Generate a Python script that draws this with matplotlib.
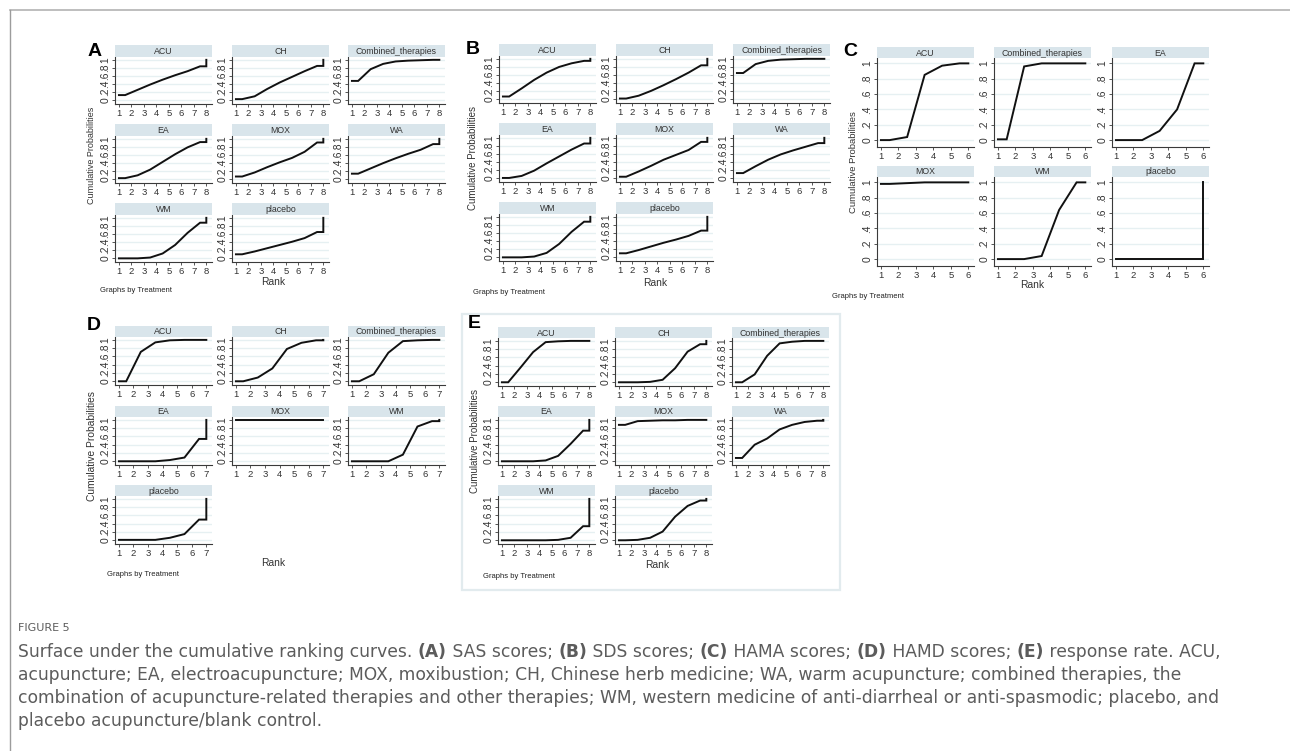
import matplotlib
matplotlib.use("Agg")
import matplotlib.pyplot as plt
from matplotlib.patches import Rectangle
from matplotlib.lines import Line2D

W, H = 1290, 751

# Cumulative probability of being ranked at or above rank r (r = 1 .. N-1);
# the final rank always closes at 1.
sas_names = ["ACU", "CH", "Combined_therapies", "EA", "MOX", "WA", "WM", "placebo"]
sas_cum = [
    [0.13, 0.26, 0.39, 0.51, 0.62, 0.72, 0.84],
    [0.03, 0.10, 0.28, 0.44, 0.58, 0.72, 0.85],
    [0.48, 0.77, 0.90, 0.96, 0.98, 0.99, 1.00],
    [0.03, 0.10, 0.24, 0.43, 0.62, 0.79, 0.92],
    [0.07, 0.17, 0.30, 0.42, 0.53, 0.68, 0.91],
    [0.14, 0.27, 0.40, 0.52, 0.63, 0.73, 0.87],
    [0.00, 0.00, 0.02, 0.12, 0.33, 0.63, 0.88],
    [0.10, 0.17, 0.25, 0.33, 0.41, 0.50, 0.65],
]

sds_names = ["ACU", "CH", "Combined_therapies", "EA", "MOX", "WA", "WM", "placebo"]
sds_cum = [
    [0.07, 0.27, 0.48, 0.66, 0.80, 0.89, 0.95],
    [0.02, 0.09, 0.21, 0.35, 0.50, 0.66, 0.84],
    [0.65, 0.87, 0.95, 0.98, 0.99, 1.00, 1.00],
    [0.01, 0.06, 0.19, 0.37, 0.54, 0.71, 0.86],
    [0.04, 0.17, 0.31, 0.46, 0.58, 0.70, 0.90],
    [0.13, 0.30, 0.46, 0.59, 0.69, 0.78, 0.87],
    [0.00, 0.00, 0.02, 0.11, 0.33, 0.63, 0.88],
    [0.10, 0.18, 0.27, 0.36, 0.44, 0.53, 0.66],
]

hama_names = ["ACU", "Combined_therapies", "EA", "MOX", "WM", "placebo"]
hama_cum = [
    [0.00, 0.04, 0.85, 0.97, 1.00],
    [0.01, 0.96, 1.00, 1.00, 1.00],
    [0.00, 0.00, 0.12, 0.40, 1.00],
    [0.98, 0.99, 1.00, 1.00, 1.00],
    [0.00, 0.00, 0.04, 0.64, 1.00],
    [0.00, 0.00, 0.00, 0.00, 0.00],
]

hamd_names = ["ACU", "CH", "Combined_therapies", "EA", "MOX", "WM", "placebo"]
hamd_cum = [
    [0.00, 0.71, 0.94, 0.99, 1.00, 1.00],
    [0.00, 0.09, 0.31, 0.78, 0.93, 0.99],
    [0.00, 0.17, 0.69, 0.97, 0.99, 1.00],
    [0.00, 0.00, 0.00, 0.03, 0.09, 0.54],
    [1.00, 1.00, 1.00, 1.00, 1.00, 1.00],
    [0.00, 0.00, 0.00, 0.16, 0.84, 0.97],
    [0.01, 0.01, 0.01, 0.06, 0.15, 0.50],
]

resp_names = ["ACU", "CH", "Combined_therapies", "EA", "MOX", "WA", "WM", "placebo"]
resp_cum = [
    [0.00, 0.36, 0.73, 0.97, 0.99, 1.00, 1.00],
    [0.00, 0.00, 0.01, 0.06, 0.34, 0.74, 0.92],
    [0.00, 0.19, 0.64, 0.94, 0.98, 1.00, 1.00],
    [0.00, 0.00, 0.00, 0.02, 0.13, 0.42, 0.74],
    [0.88, 0.97, 0.98, 0.99, 0.99, 1.00, 1.00],
    [0.08, 0.40, 0.55, 0.77, 0.88, 0.95, 0.98],
    [0.00, 0.00, 0.00, 0.00, 0.01, 0.06, 0.34],
    [0.00, 0.01, 0.06, 0.21, 0.57, 0.83, 0.96],
]

y_ticks = [0, 0.2, 0.4, 0.6, 0.8, 1]
y_ticklabels = ["0", ".2", ".4", ".6", ".8", "1"]

caption_head = "FIGURE 5"
caption_lines = [
    [("Surface under the cumulative ranking curves. ", False), ("(A)", True),
     (" SAS scores; ", False), ("(B)", True), (" SDS scores; ", False),
     ("(C)", True), (" HAMA scores; ", False), ("(D)", True),
     (" HAMD scores; ", False), ("(E)", True), (" response rate. ACU,", False)],
    [("acupuncture; EA, electroacupuncture; MOX, moxibustion; CH, Chinese herb "
      "medicine; WA, warm acupuncture; combined therapies, the", False)],
    [("combination of acupuncture-related therapies and other therapies; WM, "
      "western medicine of anti-diarrheal or anti-spasmodic; placebo, and", False)],
    [("placebo acupuncture/blank control.", False)],
]

STRIP = "#d9e5eb"
GRID = "#e6f0f2"
AXC = "#3a3a3a"
CAPC = "#5c5c5c"
STATA = ["Liberation Sans", "DejaVu Sans"]

panels = [
    dict(letter="A", names=sas_names, cum=sas_cum, cols=[115, 232, 348],
         rows=[45, 124, 203], strip_h=12, ax_h=47, letter_xy=(95, 51),
         ylab_xy=(91, 155), ylab_fs=6.5, rank_xy=(273, 282), note_xy=(100, 291)),
    dict(letter="B", names=sds_names, cum=sds_cum, cols=[499, 616, 733],
         rows=[44, 123, 202], strip_h=12, ax_h=47, letter_xy=(473, 50),
         ylab_xy=(473, 158), ylab_fs=7.0, rank_xy=(655, 283), note_xy=(473, 293)),
    dict(letter="C", names=hama_names, cum=hama_cum, cols=[877, 994, 1112],
         rows=[47, 166], strip_h=11, ax_h=89, letter_xy=(850, 51),
         ylab_xy=(853, 162), ylab_fs=6.8, rank_xy=(1032, 285), note_xy=(832, 297)),
    dict(letter="D", names=hamd_names, cum=hamd_cum, cols=[115, 232, 348],
         rows=[326, 406, 485], strip_h=11, ax_h=48, letter_xy=(94, 325),
         ylab_xy=(92, 446), ylab_fs=7.4, rank_xy=(273, 563), note_xy=(107, 575)),
    dict(letter="E", names=resp_names, cum=resp_cum, cols=[498, 615, 732],
         rows=[327, 406, 485], strip_h=11, ax_h=48, letter_xy=(474, 323),
         ylab_xy=(475, 441), ylab_fs=7.0, rank_xy=(657, 565), note_xy=(483, 576)),
]

PANEL_W = 97

fig = plt.figure(figsize=(W / 100, H / 100), dpi=100)
fig.patch.set_facecolor("white")


def fx(x):
    return x / W


def fy(y):
    return 1 - y / H


def box(left, top, right, bottom):
    return [left / W, 1 - bottom / H, (right - left) / W, (bottom - top) / H]


def step_curve(cum):
    # flat over the first half rank, joined at mid-ranks, closed with a jump to 1
    n = len(cum) + 1
    xs = [1.0] + [r + 0.5 for r in range(1, n)] + [float(n), float(n)]
    ys = [cum[0]] + list(cum) + [cum[-1], 1.0]
    return xs, ys


def draw_facet(left, top, strip_h, ax_h, name, cum):
    n = len(cum) + 1
    fig.patches.append(Rectangle((fx(left), fy(top + strip_h)), PANEL_W / W,
                                 strip_h / H, transform=fig.transFigure,
                                 facecolor=STRIP, edgecolor="none"))
    fig.text(fx(left + PANEL_W / 2), fy(top + strip_h / 2 + 0.5), name,
             ha="center", va="center", fontsize=6.3, color="#333333", family=STATA)
    ax = fig.add_axes(box(left, top + strip_h, left + PANEL_W, top + strip_h + ax_h))
    span = n - 1
    ax.set_xlim(1 - 0.045 * span, n + 0.065 * span)
    ax.set_ylim(-0.09, 1.07)
    for v in y_ticks:
        ax.axhline(v, color=GRID, lw=1.0, zorder=0)
    xs, ys = step_curve(cum)
    ax.plot(xs, ys, color="#111111", lw=1.4, solid_joinstyle="miter", zorder=3)
    ax.set_xticks(range(1, n + 1))
    ax.set_xticklabels([str(r) for r in range(1, n + 1)])
    ax.set_yticks(y_ticks)
    ax.set_yticklabels(y_ticklabels, rotation=90, va="center")
    for s in ["top", "right"]:
        ax.spines[s].set_visible(False)
    for s in ["left", "bottom"]:
        ax.spines[s].set_color(AXC)
        ax.spines[s].set_linewidth(0.8)
    ax.tick_params(length=2.5, width=0.6, color=AXC, labelcolor="#333333", pad=0.8)
    ax.tick_params(axis="y", labelsize=7.4)
    ax.tick_params(axis="x", labelsize=6.8)
    for lab in ax.get_xticklabels() + ax.get_yticklabels():
        lab.set_family(STATA)
    ax.set_facecolor("none")


for p in panels:
    k = 0
    for top in p["rows"]:
        for left in p["cols"]:
            if k >= len(p["names"]):
                break
            draw_facet(left, top, p["strip_h"], p["ax_h"], p["names"][k], p["cum"][k])
            k += 1
    lx, ly = p["letter_xy"]
    fig.text(fx(lx), fy(ly), p["letter"], ha="center", va="center",
             fontsize=14, fontweight="bold", color="black", family=STATA)
    yx, yy = p["ylab_xy"]
    fig.text(fx(yx), fy(yy), "Cumulative Probabilities", rotation=90,
             ha="center", va="center", fontsize=p["ylab_fs"], color="#333333",
             family=STATA)
    rx, ry = p["rank_xy"]
    fig.text(fx(rx), fy(ry), "Rank", ha="center", va="center", fontsize=7.4,
             color="#333333", family=STATA)
    nx, ny = p["note_xy"]
    fig.text(fx(nx), fy(ny), "Graphs by Treatment", ha="left", va="center",
             fontsize=5.5, color="#222222", family=STATA)

# framed box round the response-rate panel
fig.patches.append(Rectangle((fx(462), fy(590)), 378 / W, 276 / H,
                             transform=fig.transFigure, facecolor="none",
                             edgecolor="#e2ebee", lw=1.6))

# page rules
fig.lines.append(Line2D([fx(10), fx(1290)], [fy(10), fy(10)],
                        transform=fig.transFigure, color="#b3b3b3", lw=1.2))
fig.lines.append(Line2D([fx(10), fx(10)], [fy(10), fy(751)],
                        transform=fig.transFigure, color="#9c9c9c", lw=1.0))

# caption
CAP_FONT = ["DejaVu Sans"]
fig.text(fx(18), fy(628), caption_head, ha="left", va="center", fontsize=8,
         color=CAPC, family=CAP_FONT)

renderer = fig.canvas.get_renderer()


def text_width(s, bold, size):
    t = fig.text(0, 0, s + "|", fontsize=size, family=CAP_FONT,
                 fontweight="bold" if bold else "normal")
    t2 = fig.text(0, 0, "|", fontsize=size, family=CAP_FONT,
                  fontweight="bold" if bold else "normal")
    w = t.get_window_extent(renderer).width - t2.get_window_extent(renderer).width
    t.remove()
    t2.remove()
    return w


CAP_FS = 12.3
for i, runs in enumerate(caption_lines):
    x = 18.0
    y = 652 + i * 23
    for s, bold in runs:
        fig.text(fx(x), fy(y), s, ha="left", va="center", fontsize=CAP_FS,
                 color=CAPC, family=CAP_FONT,
                 fontweight="bold" if bold else "normal")
        x += text_width(s, bold, CAP_FS)

fig.savefig("out.png", dpi=100, facecolor="white")
